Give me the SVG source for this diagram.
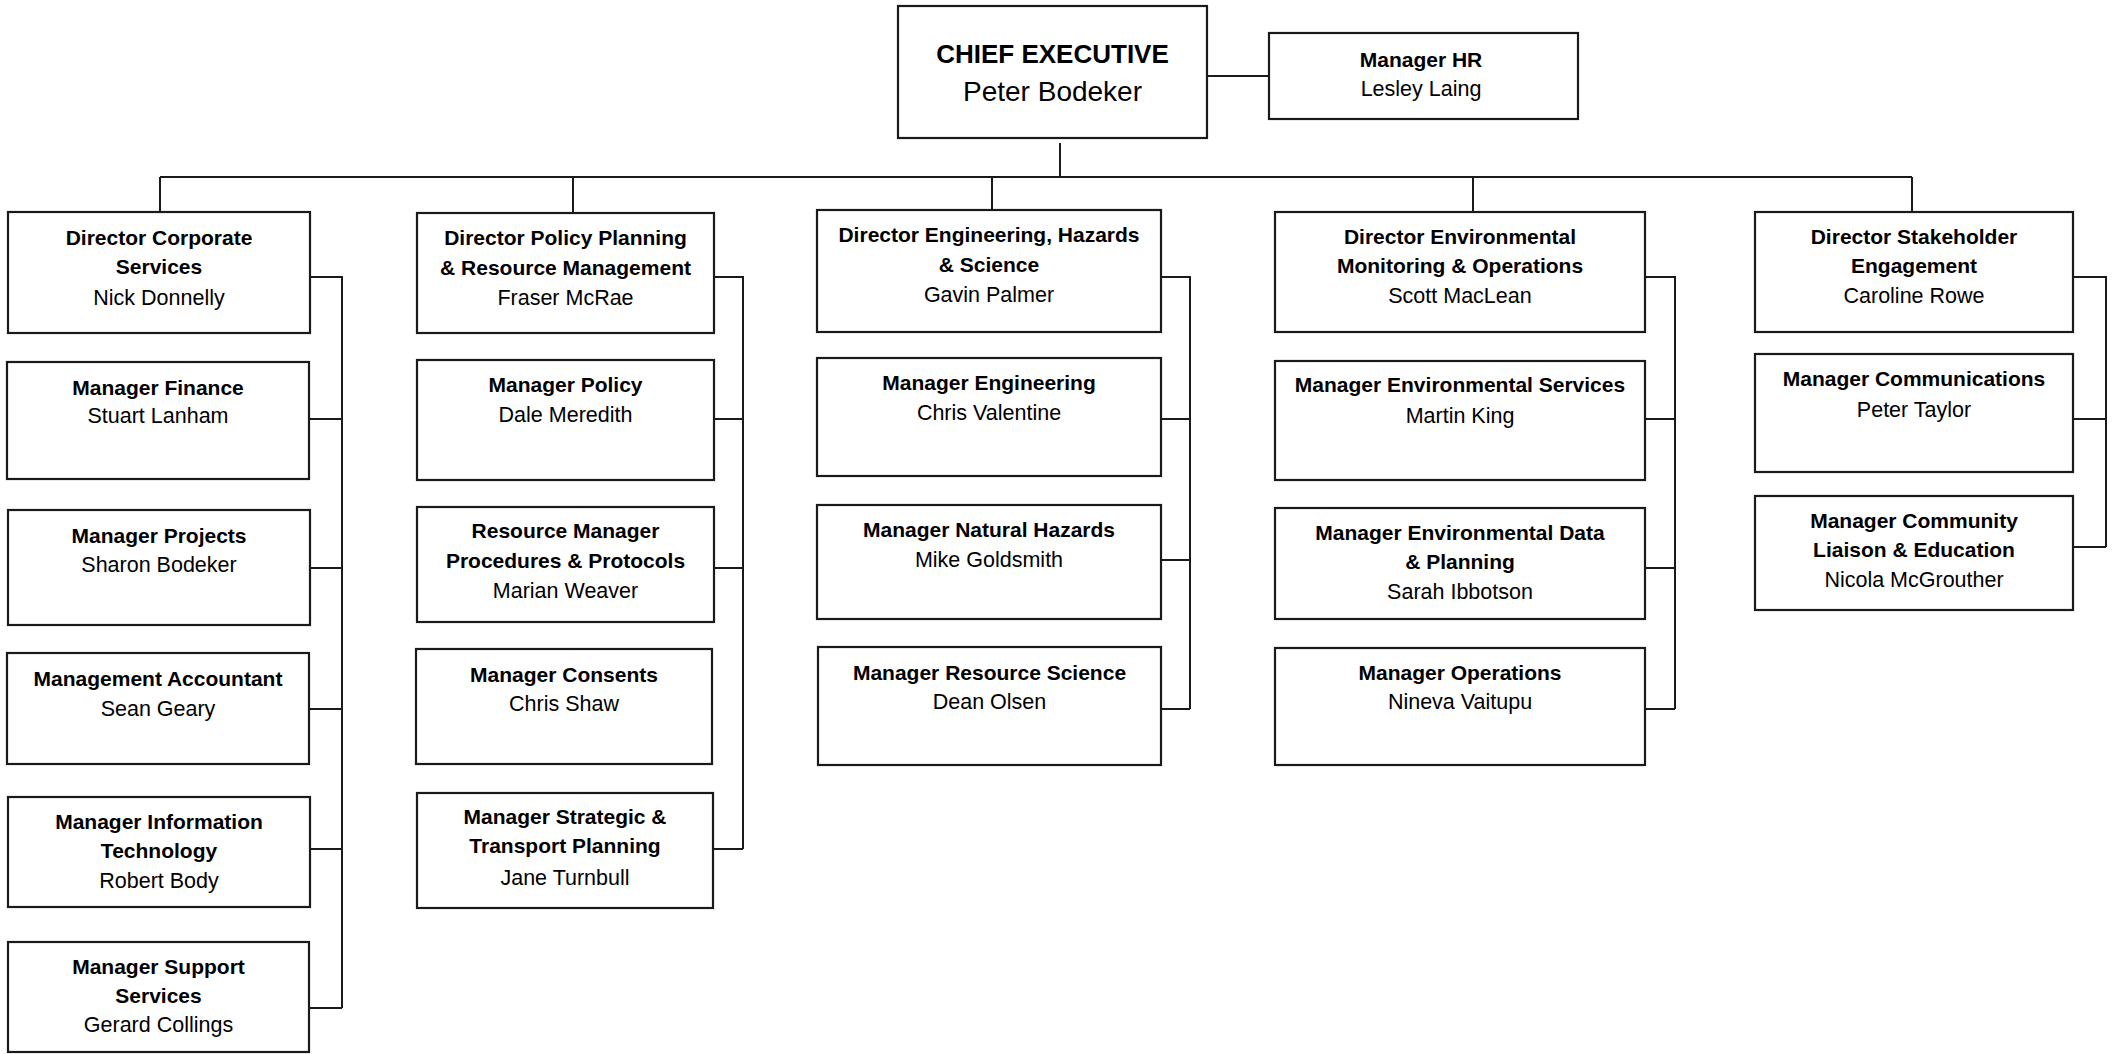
<svg xmlns="http://www.w3.org/2000/svg" width="2116" height="1054" viewBox="0 0 2116 1054">
<style>
.box{fill:#fff;stroke:#1a1a1a;stroke-width:2.2}
.t{font-family:"Liberation Sans",Arial,sans-serif;font-size:21px;font-weight:bold;fill:#000;text-anchor:middle}
.n{font-family:"Liberation Sans",Arial,sans-serif;font-size:21.5px;fill:#000;text-anchor:middle}
.ct{font-family:"Liberation Sans",Arial,sans-serif;font-size:26px;font-weight:bold;fill:#000;text-anchor:middle}
.cn{font-family:"Liberation Sans",Arial,sans-serif;font-size:28px;fill:#000;text-anchor:middle}
.c{fill:none;stroke:#1a1a1a;stroke-width:2}
</style>
<rect width="2116" height="1054" fill="#fff"/>
<g id="connectors">
<path class="c" d="M1207 76H1269"/>
<path class="c" d="M1060 143V177"/>
<path class="c" d="M160 177H1912"/>
<path class="c" d="M160 177V212M573 177V213M992 177V210M1473 177V212M1912 177V212"/>
<path class="c" d="M310 277H342V1008M309 419H342M310 568H342M309 709H342M310 849H342M309 1008H342"/>
<path class="c" d="M714 277H743V849M714 419H743M714 568H743M713 849H743"/>
<path class="c" d="M1161 277H1190V709M1161 419H1190M1161 560H1190M1161 709H1190"/>
<path class="c" d="M1645 277H1675V709M1645 419H1675M1645 568H1675M1645 709H1675"/>
<path class="c" d="M2073 277H2106V547M2073 419H2106M2073 547H2106"/>
</g>
<g id="ce"><rect class="box" x="898" y="6" width="309" height="132"/><text class="ct" x="1052.5" y="63">CHIEF EXECUTIVE</text><text class="cn" x="1052.5" y="101">Peter Bodeker</text></g>
<g id="hr"><rect class="box" x="1269" y="33" width="309" height="86"/><text class="t" x="1421" y="67">Manager HR</text><text class="n" x="1421" y="96">Lesley Laing</text></g>

<g id="d1"><rect class="box" x="8" y="212" width="302" height="121"/><text class="t" x="159" y="245">Director Corporate</text><text class="t" x="159" y="274">Services</text><text class="n" x="159" y="305">Nick Donnelly</text></g>
<g id="m-finance"><rect class="box" x="7" y="362" width="302" height="117"/><text class="t" x="158" y="395">Manager Finance</text><text class="n" x="158" y="423">Stuart Lanham</text></g>
<g id="m-projects"><rect class="box" x="8" y="510" width="302" height="115"/><text class="t" x="159" y="543">Manager Projects</text><text class="n" x="159" y="572">Sharon Bodeker</text></g>
<g id="m-accountant"><rect class="box" x="7" y="653" width="302" height="111"/><text class="t" x="158" y="686">Management Accountant</text><text class="n" x="158" y="716">Sean Geary</text></g>
<g id="m-it"><rect class="box" x="8" y="797" width="302" height="110"/><text class="t" x="159" y="829">Manager Information</text><text class="t" x="159" y="858">Technology</text><text class="n" x="159" y="888">Robert Body</text></g>
<g id="m-support"><rect class="box" x="8" y="942" width="301" height="110"/><text class="t" x="158.5" y="974">Manager Support</text><text class="t" x="158.5" y="1003">Services</text><text class="n" x="158.5" y="1032">Gerard Collings</text></g>

<g id="d2"><rect class="box" x="417" y="213" width="297" height="120"/><text class="t" x="565.5" y="245">Director Policy Planning</text><text class="t" x="565.5" y="275">&amp; Resource Management</text><text class="n" x="565.5" y="305">Fraser McRae</text></g>
<g id="m-policy"><rect class="box" x="417" y="360" width="297" height="120"/><text class="t" x="565.5" y="392">Manager Policy</text><text class="n" x="565.5" y="422">Dale Meredith</text></g>
<g id="m-procedures"><rect class="box" x="417" y="507" width="297" height="115"/><text class="t" x="565.5" y="538">Resource Manager</text><text class="t" x="565.5" y="568">Procedures &amp; Protocols</text><text class="n" x="565.5" y="598">Marian Weaver</text></g>
<g id="m-consents"><rect class="box" x="416" y="649" width="296" height="115"/><text class="t" x="564" y="682">Manager Consents</text><text class="n" x="564" y="711">Chris Shaw</text></g>
<g id="m-strategic"><rect class="box" x="417" y="793" width="296" height="115"/><text class="t" x="565" y="824">Manager Strategic &amp;</text><text class="t" x="565" y="853">Transport Planning</text><text class="n" x="565" y="885">Jane Turnbull</text></g>

<g id="d3"><rect class="box" x="817" y="210" width="344" height="122"/><text class="t" x="989" y="242">Director Engineering, Hazards</text><text class="t" x="989" y="272">&amp; Science</text><text class="n" x="989" y="302">Gavin Palmer</text></g>
<g id="m-engineering"><rect class="box" x="817" y="358" width="344" height="118"/><text class="t" x="989" y="390">Manager Engineering</text><text class="n" x="989" y="420">Chris Valentine</text></g>
<g id="m-hazards"><rect class="box" x="817" y="505" width="344" height="114"/><text class="t" x="989" y="537">Manager Natural Hazards</text><text class="n" x="989" y="567">Mike Goldsmith</text></g>
<g id="m-science"><rect class="box" x="818" y="647" width="343" height="118"/><text class="t" x="989.5" y="680">Manager Resource Science</text><text class="n" x="989.5" y="709">Dean Olsen</text></g>

<g id="d4"><rect class="box" x="1275" y="212" width="370" height="120"/><text class="t" x="1460" y="244">Director Environmental</text><text class="t" x="1460" y="273">Monitoring &amp; Operations</text><text class="n" x="1460" y="303">Scott MacLean</text></g>
<g id="m-envservices"><rect class="box" x="1275" y="361" width="370" height="119"/><text class="t" x="1460" y="392">Manager Environmental Services</text><text class="n" x="1460" y="423">Martin King</text></g>
<g id="m-envdata"><rect class="box" x="1275" y="508" width="370" height="111"/><text class="t" x="1460" y="540">Manager Environmental Data</text><text class="t" x="1460" y="569">&amp; Planning</text><text class="n" x="1460" y="599">Sarah Ibbotson</text></g>
<g id="m-operations"><rect class="box" x="1275" y="648" width="370" height="117"/><text class="t" x="1460" y="680">Manager Operations</text><text class="n" x="1460" y="709">Nineva Vaitupu</text></g>

<g id="d5"><rect class="box" x="1755" y="212" width="318" height="120"/><text class="t" x="1914" y="244">Director Stakeholder</text><text class="t" x="1914" y="273">Engagement</text><text class="n" x="1914" y="303">Caroline Rowe</text></g>
<g id="m-communications"><rect class="box" x="1755" y="354" width="318" height="118"/><text class="t" x="1914" y="386">Manager Communications</text><text class="n" x="1914" y="417">Peter Taylor</text></g>
<g id="m-community"><rect class="box" x="1755" y="496" width="318" height="114"/><text class="t" x="1914" y="528">Manager Community</text><text class="t" x="1914" y="557">Liaison &amp; Education</text><text class="n" x="1914" y="587">Nicola McGrouther</text></g>
</svg>
